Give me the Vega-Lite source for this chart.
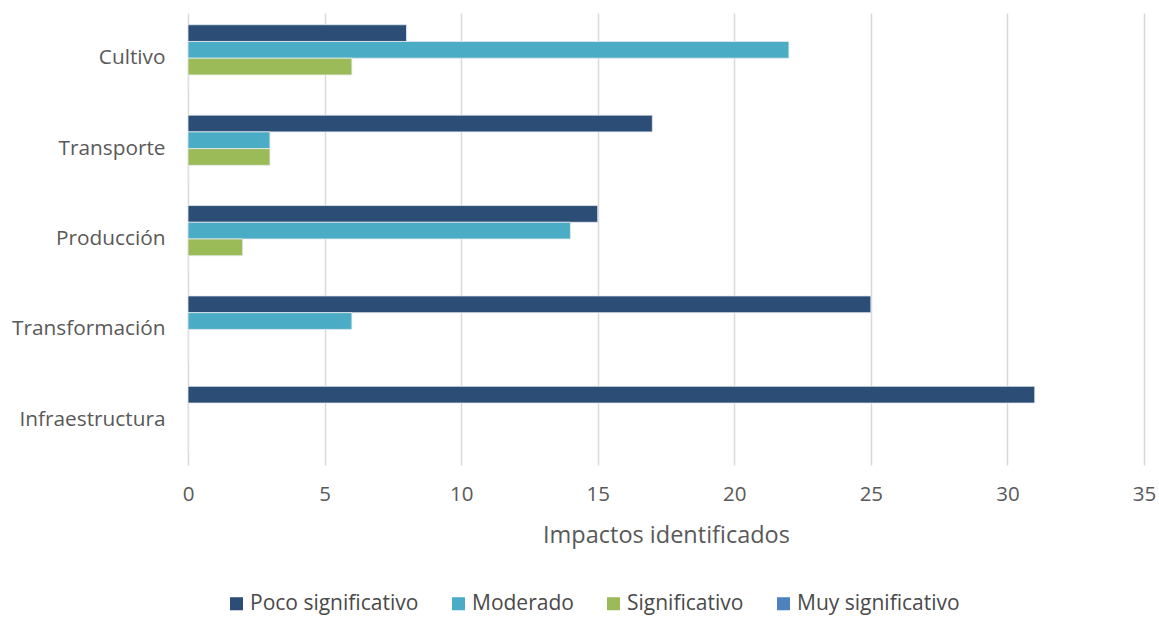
{
  "$schema": "https://vega.github.io/schema/vega-lite/v6.json",
  "width": 956,
  "height": 452,
  "autosize": "none",
  "padding": {"left": 188, "top": 13, "right": 15, "bottom": 152},
  "background": "white",
  "config": {
    "font": "Open Sans",
    "view": {"stroke": null}
  },
  "data": {
    "values": [
      {"etapa": "Cultivo", "nivel": "Poco significativo", "impactos": 8},
      {"etapa": "Cultivo", "nivel": "Moderado", "impactos": 22},
      {"etapa": "Cultivo", "nivel": "Significativo", "impactos": 6},
      {"etapa": "Cultivo", "nivel": "Muy significativo", "impactos": 0},
      {"etapa": "Transporte", "nivel": "Poco significativo", "impactos": 17},
      {"etapa": "Transporte", "nivel": "Moderado", "impactos": 3},
      {"etapa": "Transporte", "nivel": "Significativo", "impactos": 3},
      {"etapa": "Transporte", "nivel": "Muy significativo", "impactos": 0},
      {"etapa": "Producción", "nivel": "Poco significativo", "impactos": 15},
      {"etapa": "Producción", "nivel": "Moderado", "impactos": 14},
      {"etapa": "Producción", "nivel": "Significativo", "impactos": 2},
      {"etapa": "Producción", "nivel": "Muy significativo", "impactos": 0},
      {"etapa": "Transformación", "nivel": "Poco significativo", "impactos": 25},
      {"etapa": "Transformación", "nivel": "Moderado", "impactos": 6},
      {"etapa": "Transformación", "nivel": "Significativo", "impactos": 0},
      {"etapa": "Transformación", "nivel": "Muy significativo", "impactos": 0},
      {"etapa": "Infraestructura", "nivel": "Poco significativo", "impactos": 31},
      {"etapa": "Infraestructura", "nivel": "Moderado", "impactos": 0},
      {"etapa": "Infraestructura", "nivel": "Significativo", "impactos": 0},
      {"etapa": "Infraestructura", "nivel": "Muy significativo", "impactos": 0}
    ]
  },
  "mark": {"type": "bar", "stroke": "#e4eaf0", "strokeWidth": 0.8},
  "encoding": {
    "y": {
      "field": "etapa",
      "type": "nominal",
      "sort": ["Cultivo", "Transporte", "Producción", "Transformación", "Infraestructura"],
      "scale": {"paddingInner": 0.26, "paddingOuter": 0.13},
      "axis": {
        "title": null,
        "domain": false,
        "ticks": false,
        "labelFontSize": 20.8,
        "labelColor": "#595959",
        "labelPadding": 23
      }
    },
    "yOffset": {
      "field": "nivel",
      "type": "nominal",
      "sort": ["Poco significativo", "Moderado", "Significativo", "Muy significativo"],
      "scale": {"paddingInner": 0, "paddingOuter": 0}
    },
    "x": {
      "field": "impactos",
      "type": "quantitative",
      "scale": {"domain": [0, 35], "nice": false},
      "axis": {
        "title": "Impactos identificados",
        "titleFontSize": 23.5,
        "titleFontWeight": "normal",
        "titleColor": "#595959",
        "titlePadding": 19,
        "values": [0, 5, 10, 15, 20, 25, 30, 35],
        "domain": false,
        "ticks": false,
        "labelFlush": false,
        "labelFontSize": 20.5,
        "labelColor": "#595959",
        "labelPadding": 19,
        "grid": true,
        "gridColor": "#d9d9d9",
        "gridWidth": 1.5
      }
    },
    "color": {
      "field": "nivel",
      "type": "nominal",
      "sort": ["Poco significativo", "Moderado", "Significativo", "Muy significativo"],
      "scale": {
        "domain": ["Poco significativo", "Moderado", "Significativo", "Muy significativo"],
        "range": ["#2c4d75", "#4bacc6", "#9bbb59", "#4f81bd"]
      },
      "legend": {
        "title": null,
        "orient": "none",
        "direction": "horizontal",
        "legendX": 38,
        "legendY": 580,
        "symbolType": "square",
        "symbolSize": 170,
        "symbolStrokeWidth": 0,
        "labelFontSize": 21,
        "labelLimit": 0,
        "labelColor": "#4a4a4a",
        "labelOffset": 3,
        "columnPadding": 29
      }
    }
  }
}
